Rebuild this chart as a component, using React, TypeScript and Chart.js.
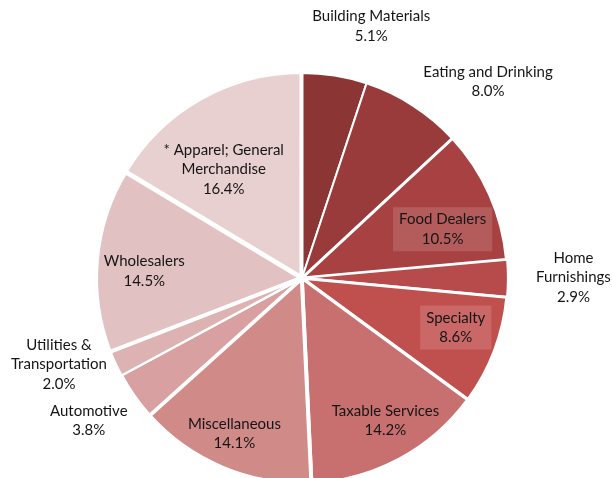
import React, { useEffect, useRef } from "react";
import { Chart, registerables } from "chart.js";

Chart.register(...registerables);

// ---- data ----
const categories: string[][] = [
  ["Building Materials"],
  ["Eating and Drinking"],
  ["Food Dealers"],
  ["Home", "Furnishings"],
  ["Specialty"],
  ["Taxable Services"],
  ["Miscellaneous"],
  ["Automotive"],
  ["Utilities &", "Transportation"],
  ["Wholesalers"],
  ["* Apparel; General", "Merchandise"],
];
const shares = [5.1, 8.0, 10.5, 2.9, 8.6, 14.2, 14.1, 3.8, 2.0, 14.5, 16.4];
const shareLabels = ["5.1%", "8.0%", "10.5%", "2.9%", "8.6%", "14.2%", "14.1%", "3.8%", "2.0%", "14.5%", "16.4%"];

// ---- styles ----
const sliceColors = [
  "#8B3535",
  "#993B3B",
  "#A84242",
  "#B74A4A",
  "#C0504D",
  "#C87070",
  "#D08A88",
  "#D8A0A0",
  "#DDB2B2",
  "#E1C1C1",
  "#E8D0D0",
];
const sliceOffsets = [0, 0, 1, 2, 2, 2, 2, 0, 0, 3, 4];
const sliceBorders = [2, 2, 3, 2, 3, 3, 4, 3, 2, 4, 4];
// label placement: radius factor (of outer radius) and angle shift (deg) from slice middle
const labelRadius = [1.274, 1.32, 0.726, 1.324, 0.788, 0.806, 0.828, 1.251, 1.258, 0.77, 0.653];
const labelShift = [6.2, 10.7, 4.9, -0.2, -2.9, -2.1, 0.8, 1.4, 5.2, -2.4, -6.3];
const labelBoxed = [false, false, true, false, true, false, false, false, false, false, false];

const FONT = "15px Lato, 'Noto Sans', sans-serif";
const LINE_H = 19.5;

const labelPlugin = {
  id: "sliceLabels",
  afterDatasetsDraw(chart: any) {
    const ctx: CanvasRenderingContext2D = chart.ctx;
    const meta = chart.getDatasetMeta(0);
    ctx.save();
    ctx.font = FONT;
    ctx.textAlign = "center";
    ctx.textBaseline = "middle";
    meta.data.forEach((arc: any, i: number) => {
      const p = arc.getProps(["x", "y", "startAngle", "endAngle", "outerRadius"], true);
      const mid = (p.startAngle + p.endAngle) / 2 + (labelShift[i] * Math.PI) / 180;
      const r = p.outerRadius * labelRadius[i];
      const cx = p.x + Math.cos(mid) * r;
      const cy = p.y + Math.sin(mid) * r;
      const lines = [...categories[i], shareLabels[i]];
      const n = lines.length;
      if (labelBoxed[i]) {
        const w = Math.max(...lines.map((l) => ctx.measureText(l).width)) + 12;
        const h = n * LINE_H + 5;
        ctx.fillStyle = "rgba(255,255,255,0.14)";
        ctx.fillRect(cx - w / 2, cy - h / 2, w, h);
      }
      ctx.fillStyle = "#151515";
      lines.forEach((l, k) => {
        ctx.fillText(l, cx, cy + (k - (n - 1) / 2) * LINE_H);
      });
    });
    ctx.restore();
  },
};

export default function App() {
  const ref = useRef<HTMLCanvasElement | null>(null);
  useEffect(() => {
    document.body.style.margin = "0";
    const canvas = ref.current!;
    const chart = new Chart(canvas, {
      type: "pie",
      data: {
        labels: categories.map((c) => c.join(" ")),
        datasets: [
          {
            data: shares,
            backgroundColor: sliceColors,
            borderColor: "#ffffff",
            borderWidth: sliceBorders,
            offset: sliceOffsets,
          },
        ],
      },
      options: {
        responsive: false,
        animation: false,
        radius: 205,
        layout: { padding: { left: 0, right: 8, top: 78, bottom: 0 } },
        plugins: {
          legend: { display: false },
          tooltip: { enabled: false },
        },
      },
      plugins: [labelPlugin],
    } as any);
    return () => chart.destroy();
  }, []);
  return (
    <div style={{ width: 612, height: 478, background: "#fff" }}>
      <canvas ref={ref} width={612} height={478} />
    </div>
  );
}
